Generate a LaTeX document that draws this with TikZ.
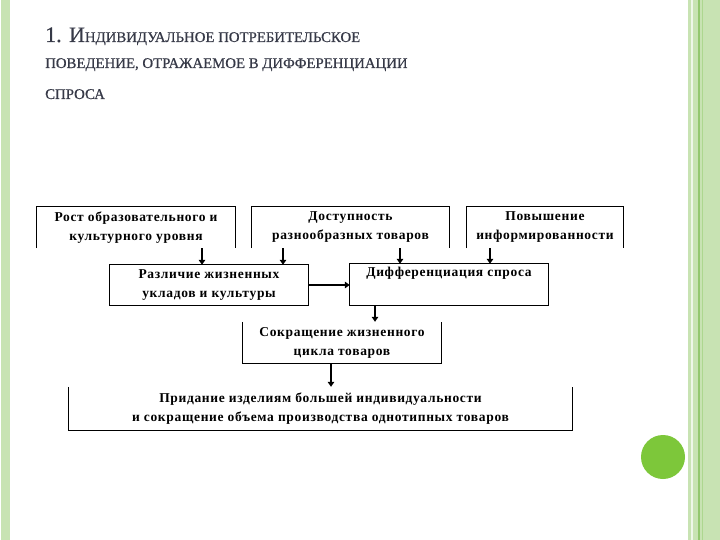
\documentclass[tikz,border=0pt]{standalone}
\usepackage{fontspec}
\setmainfont{Liberation Serif}
\newfontfamily\titlefont[FakeBold=0.6]{Liberation Serif}
\newfontfamily\boxfont[LetterSpace=5]{Liberation Serif}
\usetikzlibrary{arrows.meta}
\definecolor{frameA}{HTML}{C8E3B3}
\definecolor{frameB}{HTML}{93C76F}
\definecolor{frameC}{HTML}{ADD78F}
\definecolor{dotgreen}{HTML}{7DC73A}
\definecolor{titlecol}{HTML}{363947}
\tikzset{
  box/.style={minimum width=#1, minimum height=41pt, inner sep=0pt, align=center,
    font=\boxfont\fontsize{13.5}{19}\selectfont\bfseries},
  edge/.style={line width=0.8pt, black},
  arr/.style={line width=1.9pt, -{Triangle[length=5pt,width=6.5pt]}},
  ttl/.style={anchor=base west, inner sep=0pt, text=titlecol, font=\titlefont},
}
\newcommand{\bigc}{\fontsize{22}{22}\selectfont}
\newcommand{\smc}{\fontsize{14.8}{14.8}\selectfont}
\begin{document}
\begin{tikzpicture}[x=1pt,y=-1pt]
\useasboundingbox (0,0) rectangle (720,540);
\fill[white] (0,0) rectangle (720,540);
% frame stripes
\fill[frameA] (1,0) rectangle (10,540);
\fill[frameA] (688,0) rectangle (720,540);
\fill[white!70!frameA] (691,0) rectangle (693,540);
\fill[frameB] (698,0) rectangle (700,540);
\fill[frameC] (702,0) rectangle (703,540);
\fill[dotgreen] (663,457) circle (22);
% title
\node[ttl] (t1) at (45,42) {\bigc 1. И\smc НДИВИДУАЛЬНОЕ ПОТРЕБИТЕЛЬСКОЕ};
\node[ttl] (t2) at (45,68) {\smc ПОВЕДЕНИЕ, ОТРАЖАЕМОЕ В ДИФФЕРЕНЦИАЦИИ};
\node[ttl] (t3) at (45,99) {\smc СПРОСА};
% boxes
\node[box=198pt] (b1) at (136,227.5) {Рост образовательного и\\культурного уровня};
\node[box=197pt] (b2) at (350.5,227.5) {Доступность\\разнообразных товаров};
\node[box=156pt] (b3) at (545,227.5) {Повышение\\информированности};
\node[box=198pt, minimum height=40pt] (b4) at (209,285) {Различие жизненных\\укладов и культуры};
\node[box=198pt] (b5) at (449,284.5) {Дифференциация спроса\\\strut};
\node[box=198pt] (b6) at (342,342.5) {Сокращение жизненного\\цикла товаров};
\node[box=503pt, minimum height=43pt] (b7) at (320.5,408.5) {Придание изделиям большей индивидуальности\\и сокращение объема производства однотипных товаров};
% borders
\draw[edge] (b1.south west) |- (b1.north east) -- (b1.south east);
\draw[edge] (b2.south west) |- (b2.north east) -- (b2.south east);
\draw[edge] (b3.south west) |- (b3.north east) -- (b3.south east);
\draw[edge] (b4.south west) rectangle (b4.north east);
\draw[edge] (b5.south west) rectangle (b5.north east);
\draw[edge] (b6.north west) |- (b6.south east) -- (b6.north east);
\draw[edge] (b7.north west) |- (b7.south east) -- (b7.north east);
% arrows
\draw[arr] ([xshift=66pt]b1.south) -- ([xshift=66pt]b1.south |- b4.north);
\draw[arr] ([xshift=-67.5pt]b2.south) -- ([xshift=-67.5pt]b2.south |- b4.north);
\draw[arr] ([xshift=49.5pt]b2.south) -- ([xshift=49.5pt]b2.south |- b5.north);
\draw[arr] ([xshift=-55pt]b3.south) -- ([xshift=-55pt]b3.south |- b5.north);
\draw[arr] (b4.east) -- (b4.east -| b5.west);
\draw[arr] ([xshift=-74pt]b5.south) -- ([xshift=-74pt]b5.south |- b6.north);
\draw[arr] ([xshift=-11pt]b6.south) -- ([xshift=-11pt]b6.south |- b7.north);
\end{tikzpicture}
\end{document}
